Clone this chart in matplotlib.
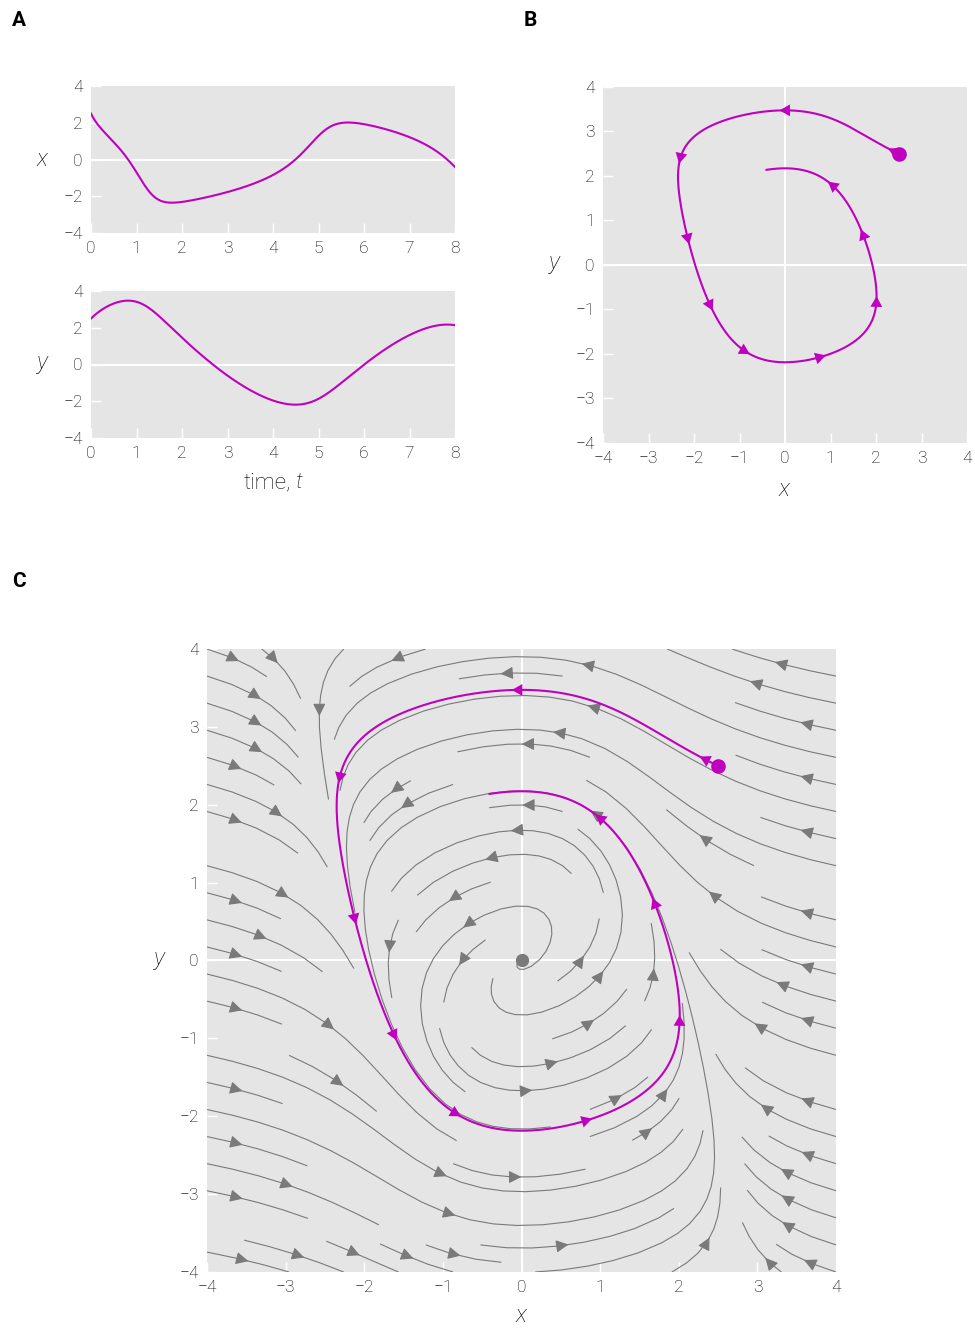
import numpy as np
import matplotlib.pyplot as plt
from matplotlib.patches import FancyArrowPatch

plt.rcParams['font.family'] = ['Roboto', 'DejaVu Sans']
plt.rcParams['font.weight'] = 'light'
plt.rcParams['mathtext.fontset'] = 'custom'
plt.rcParams['mathtext.it'] = 'Roboto:italic:light'
plt.rcParams['mathtext.rm'] = 'Roboto:light'

# van der Pol oscillator: dx/dt = mu*(x - x^3/3 - y), dy/dt = x/mu
mu = 1.0
start = [2.5, 2.5]
t_end = 8.0
arrow_times = [0.0, 0.8, 1.6, 2.4, 3.2, 4.0, 4.8, 5.6, 6.4, 7.2]
arrow_dt = 0.05

time_ticks = [0, 1, 2, 3, 4, 5, 6, 7, 8]
ts_ticks = [-4, -2, 0, 2, 4]
phase_ticks = [-4, -3, -2, -1, 0, 1, 2, 3, 4]

MAGENTA = '#bf00bf'
GRAY = '#7a7a7a'
BG = '#e5e5e5'
INK = '#000000'
W, H = 975, 1329


def field(x, y):
    return mu * (x - x**3 / 3 - y), x / mu


def solve(p, t1, dt=0.002):
    n = int(round(t1 / dt))
    out = np.zeros((n + 1, 2))
    out[0] = p
    x, y = p
    for i in range(n):
        k1 = field(x, y)
        k2 = field(x + dt / 2 * k1[0], y + dt / 2 * k1[1])
        k3 = field(x + dt / 2 * k2[0], y + dt / 2 * k2[1])
        k4 = field(x + dt * k3[0], y + dt * k3[1])
        x = x + dt / 6 * (k1[0] + 2 * k2[0] + 2 * k3[0] + k4[0])
        y = y + dt / 6 * (k1[1] + 2 * k2[1] + 2 * k3[1] + k4[1])
        out[i + 1] = x, y
    return np.linspace(0, t1, n + 1), out


t, sol = solve(start, t_end)


def at(tt):
    return np.array([np.interp(tt, t, sol[:, 0]), np.interp(tt, t, sol[:, 1])])


def px_axes(fig, left, top, right, bottom):
    return fig.add_axes([left / W, 1 - bottom / H, (right - left) / W, (bottom - top) / H])


def style(ax):
    ax.set_facecolor(BG)
    for s in ax.spines.values():
        s.set_visible(False)
    ax.tick_params(direction='in', length=7, width=1, color='white',
                   labelcolor=INK, labelsize=12.5, pad=6)


def traj_arrows(ax):
    for ta in arrow_times:
        p0, p1 = at(ta), at(ta + arrow_dt)
        ax.add_patch(FancyArrowPatch(p0, p1, arrowstyle='-|>,head_length=0.45,head_width=0.25',
                                     mutation_scale=17, color=MAGENTA, lw=0,
                                     shrinkA=0, shrinkB=0, zorder=6))


fig = plt.figure(figsize=(W / 100, H / 100), dpi=100)

# panel A
axx = px_axes(fig, 91, 86, 455, 233)
axy = px_axes(fig, 91, 291, 455, 438)
for ax, vals, lab in [(axx, sol[:, 0], '$x$'), (axy, sol[:, 1], '$y$')]:
    style(ax)
    ax.axhline(0, color='white', lw=1.5, zorder=1)
    ax.plot(t, vals, color=MAGENTA, lw=1.5, zorder=3)
    ax.set_xlim(0, 8)
    ax.set_ylim(-4, 4)
    ax.set_xticks(time_ticks)
    ax.set_yticks(ts_ticks)
    ax.set_ylabel(lab, rotation=0, fontsize=17, va='center', ha='center', color=INK)
    ax.yaxis.set_label_coords(-0.132, 0.5)
fig.text(291 / W, 1 - 483 / H, 'time,', fontsize=16, ha='right', va='center', color=INK)
fig.text(296 / W, 1 - 483 / H, 't', fontsize=16, ha='left', va='center', color=INK,
         style='italic')

# panel B
axb = px_axes(fig, 603, 87, 967, 443)
style(axb)
axb.axhline(0, color='white', lw=1.5, zorder=1)
axb.axvline(0, color='white', lw=1.5, zorder=1)
axb.plot(sol[:, 0], sol[:, 1], color=MAGENTA, lw=1.5, zorder=3)
axb.plot(*start, 'o', color=MAGENTA, ms=9.5, zorder=7)
traj_arrows(axb)

# panel C
axc = px_axes(fig, 207, 649, 836, 1272)
style(axc)
axc.axhline(0, color='white', lw=1.5, zorder=0.5)
axc.axvline(0, color='white', lw=1.5, zorder=0.5)
gx = np.linspace(-4, 4, 200)
GX, GY = np.meshgrid(gx, gx)
U, V = field(GX, GY)
axc.streamplot(GX, GY, U, V, density=0.8, color=GRAY, linewidth=0.8,
               arrowsize=1.9, zorder=2)
axc.plot(sol[:, 0], sol[:, 1], color=MAGENTA, lw=1.5, zorder=4)
axc.plot(*start, 'o', color=MAGENTA, ms=9.5, zorder=7)
axc.plot(0, 0, 'o', color=GRAY, ms=8.5, zorder=7)
traj_arrows(axc)

for ax in (axb, axc):
    ax.set_xlim(-4, 4)
    ax.set_ylim(-4, 4)
    ax.set_xticks(phase_ticks)
    ax.set_yticks(phase_ticks)
    ax.set_xlabel('$x$', fontsize=17, va='center', color=INK)
    ax.set_ylabel('$y$', rotation=0, fontsize=17, va='center', ha='center', color=INK)
axb.xaxis.set_label_coords(0.5, -0.132)
axb.yaxis.set_label_coords(-0.132, 0.5)
axc.xaxis.set_label_coords(0.5, -0.0706)
axc.yaxis.set_label_coords(-0.075, 0.5)

for lab, xp, yp in [('A', 12, 20), ('B', 524, 20), ('C', 12, 582)]:
    fig.text(xp / W, 1 - yp / H, lab, fontsize=15, fontweight='bold',
             va='center', ha='left', color=INK)

fig.savefig('out.png', dpi=100)
